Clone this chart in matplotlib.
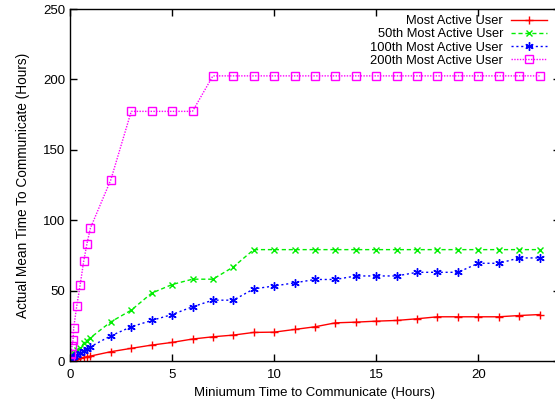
import matplotlib
matplotlib.use("Agg")
import matplotlib.pyplot as plt

hours_fine = [0, 0.05, 0.1, 0.15, 0.18, 0.33, 0.5, 0.67, 0.83, 1]
hours_int = list(range(2, 24))
x = hours_fine + hours_int

most_active = [0, 0.3, 0.5, 0.8, 1.0, 1.5, 2.0, 2.5, 3.0, 3.5,
               6.6, 9.0, 11.3, 13.2, 15.6, 17.2, 18.4, 20.3, 20.5, 22.4,
               24.3, 27.1, 27.6, 28.3, 28.8, 30.0, 31.4, 31.4, 31.4, 31.4, 32.3, 33.0]
user_50 = [0, 2, 4, 5, 6, 8, 9.5, 12.5, 14.5, 16.5,
           27.8, 36.1, 48.2, 54.3, 58.1, 58.1, 66.8, 79.1, 79.1, 79.1,
           79.1, 79.1, 79.1, 79.1, 79.1, 79.1, 79.1, 79.1, 79.1, 79.1, 79.1, 79.1]
user_100 = [0, 1, 2, 3, 3.5, 4.5, 5.4, 7.1, 8.5, 10.1,
            17.9, 24.3, 28.8, 33.0, 38.5, 43.2, 43.2, 51.2, 53.3, 55.5,
            57.9, 57.9, 60.4, 60.4, 60.4, 63.0, 63.0, 63.0, 69.4, 69.4, 73.2, 73.2]
user_200 = [0, 5, 11, 15, 23.6, 39, 54.3, 70.8, 83.3, 94.4,
            128.7, 177.3, 177.3, 177.3, 177.3, 202.5, 202.5, 202.5, 202.5, 202.5,
            202.5, 202.5, 202.5, 202.5, 202.5, 202.5, 202.5, 202.5, 202.5, 202.5, 202.5, 202.5]

labels = ["Most Active User", "50th Most Active User",
          "100th Most Active User", "200th Most Active User"]
x_ticks = [0, 5, 10, 15, 20]
y_ticks = [0, 50, 100, 150, 200, 250]

plt.rcParams['font.family'] = ['Liberation Sans', 'DejaVu Sans']

W, H = 555, 405
fig = plt.figure(figsize=(W / 100, H / 100), dpi=100)
ax = fig.add_axes([70 / W, (H - 361) / H, (560 - 70) / W, (361 - 9) / H])

ms = 6
ax.plot(x, most_active, color='#ff0000', lw=1, ls='-', marker='+', ms=ms, mew=1, label=labels[0])
ax.plot(x, user_50, color='#00ee00', lw=1, ls=(0, (3, 2)), marker='x', ms=ms - 1, mew=1, label=labels[1])
ax.plot(x, user_100, color='#0000ff', lw=1, ls=(0, (1.5, 2)), marker=(6, 2, 0), ms=ms, mew=1, label=labels[2])
ax.plot(x, user_200, color='#ff00ff', lw=1, ls=(0, (1, 1)), marker='s', ms=ms - 0.5, mew=1,
        mfc='none', label=labels[3])

ax.set_xlim(0, 24)
ax.set_ylim(0, 250)
ax.set_xticks(x_ticks)
ax.set_yticks(y_ticks)
ax.tick_params(direction='in', top=True, right=True, length=5, labelsize=9.5, width=1)
ax.tick_params(axis='x', pad=6)
for s in ax.spines.values():
    s.set_linewidth(1)

ax.set_xlabel("Miniumum Time to Communicate (Hours)", fontsize=9.5, labelpad=4)
ax.set_ylabel("Actual Mean Time To Communicate (Hours)", fontsize=9.8, labelpad=9)

leg = ax.legend(loc='upper right', bbox_to_anchor=(547 / W, (H - 15) / H),
                bbox_transform=fig.transFigure, frameon=False, markerfirst=False,
                fontsize=9.3, handlelength=2.8, handletextpad=0.6, labelspacing=0.1,
                borderpad=0.0, borderaxespad=0.0)
leg._legend_box.align = "right"
for vp in leg._legend_handle_box.get_children():
    for c in vp.get_children():
        c.align = "right"

fig.savefig("out.png", dpi=100)
